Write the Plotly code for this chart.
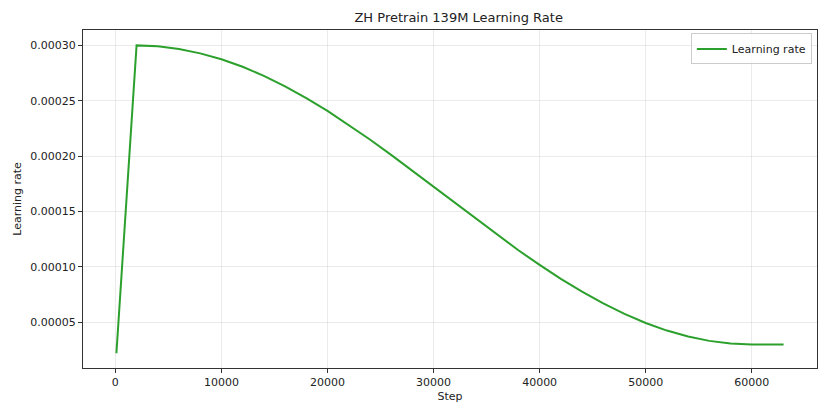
import plotly.graph_objects as go

# training steps (x) and learning rate
steps = [100, 1000, 2000, 4000, 6000, 8000, 10000, 12000, 14000, 16000, 18000,
         20000, 22000, 24000, 26000, 28000, 30000, 32000, 34000, 36000, 38000,
         40000, 42000, 44000, 46000, 48000, 50000, 52000, 54000, 56000, 58000,
         60000, 62000, 63000]
lr = [2.2e-5, 1.54e-4, 3.000e-4, 2.992e-4, 2.968e-4, 2.928e-4, 2.875e-4,
      2.807e-4, 2.725e-4, 2.630e-4, 2.524e-4, 2.408e-4, 2.282e-4, 2.150e-4,
      2.011e-4, 1.868e-4, 1.723e-4, 1.577e-4, 1.432e-4, 1.289e-4, 1.150e-4,
      1.018e-4, 8.92e-5, 7.76e-5, 6.70e-5, 5.75e-5, 4.93e-5, 4.25e-5, 3.71e-5,
      3.32e-5, 3.08e-5, 3.00e-5, 3.00e-5, 3.00e-5]

x_ticks = [0, 10000, 20000, 30000, 40000, 50000, 60000]
y_ticks = [0.00005, 0.00010, 0.00015, 0.00020, 0.00025, 0.00030]

font = "DejaVu Sans, Verdana, sans-serif"

fig = go.Figure()
fig.add_trace(go.Scatter(
    x=steps, y=lr, mode="lines", name="Learning rate",
    line=dict(color="#2ca02c", width=2),
))

axis_common = dict(
    showline=True, mirror=True, linecolor="#333333", linewidth=1,
    showgrid=True, gridcolor="rgba(176,176,176,0.25)", gridwidth=1,
    ticks="outside", ticklen=4, tickcolor="#333333",
    zeroline=False, tickfont=dict(size=11, color="#222222"),
    automargin=False,
)

# the page adds an 8px body margin, so margins are shifted to compensate
fig.update_layout(
    width=830, height=416,
    margin=dict(l=75, r=21, t=22, b=56),
    paper_bgcolor="white", plot_bgcolor="white",
    font=dict(family=font, size=11, color="#222222"),
    title=dict(text="ZH Pretrain 139M Learning Rate", x=0.543, xanchor="center",
               y=0.978, yanchor="middle", font=dict(size=13)),
    xaxis=dict(axis_common, range=[-3050, 66150], tickvals=x_ticks,
               tickformat="d",
               title=dict(text="Step", standoff=4, font=dict(size=11))),
    yaxis=dict(axis_common, range=[0.0000087, 0.0003139], tickvals=y_ticks,
               tickformat=".5f",
               title=dict(text="Learning rate", standoff=6, font=dict(size=11))),
    legend=dict(x=0.993, xanchor="right", y=0.99, yanchor="top",
                bgcolor="rgba(255,255,255,0.8)", bordercolor="#cccccc",
                borderwidth=1, font=dict(size=11),
                tracegroupgap=0, itemwidth=30),
    showlegend=True,
)

fig.write_html("out.html")
